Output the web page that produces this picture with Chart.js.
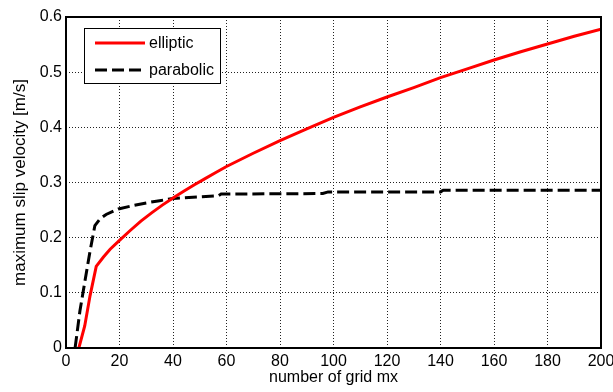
<!DOCTYPE html>
<html>
<head>
<meta charset="utf-8">
<script src="https://cdn.jsdelivr.net/npm/chart.js@4.4.1/dist/chart.umd.min.js"></script>
<style>
  html, body { margin: 0; padding: 0; background: #fff; }
  #wrap { width: 613px; height: 392px; }
</style>
</head>
<body>
<div id="wrap"><canvas id="chart"></canvas></div>
<script>
const ellipticX = [4.8, 7, 9, 11.3, 14, 16.5, 20, 24, 28, 32, 36, 40, 44, 48, 52, 56, 60, 70, 80, 90, 100, 110, 120, 130, 140, 150, 160, 170, 180, 190, 200];
const ellipticY = [0, 0.04, 0.095, 0.148, 0.165, 0.179, 0.195, 0.213, 0.23, 0.245, 0.259, 0.272, 0.284, 0.296, 0.307, 0.318, 0.329, 0.353, 0.376, 0.397, 0.418, 0.437, 0.455, 0.472, 0.49, 0.506, 0.522, 0.537, 0.551, 0.565, 0.578];

const parabolicX = [3.4, 5.2, 7.1, 9, 10.8, 12.7, 15, 19.6, 25, 30, 35, 40, 50, 57, 58, 96, 98, 140, 141, 200];
const parabolicY = [0, 0.067, 0.122, 0.176, 0.222, 0.234, 0.242, 0.252, 0.258, 0.263, 0.267, 0.271, 0.274, 0.276, 0.279, 0.280, 0.283, 0.283, 0.286, 0.286];

const xTicks = [0, 20, 40, 60, 80, 100, 120, 140, 160, 180, 200];
const yTicks = [0, 0.1, 0.2, 0.3, 0.4, 0.5, 0.6];
const yTickLabels = ['0', '0.1', '0.2', '0.3', '0.4', '0.5', '0.6'];

const seriesNames = ['elliptic', 'parabolic'];

const FONT = 'Arial, "Liberation Sans", sans-serif';
const toPoints = (xs, ys) => xs.map((x, i) => ({ x, y: ys[i] }));

// box around the axes plus the boxed legend in the upper left corner
const framePlugin = {
  id: 'frame',
  afterDatasetsDraw(chart) {
    const { ctx, chartArea: a } = chart;
    ctx.save();
    ctx.strokeStyle = '#000';
    ctx.lineWidth = 2;
    ctx.setLineDash([]);
    ctx.strokeRect(a.left, a.top, a.right - a.left, a.bottom - a.top);

    const bx = 84.5, by = 28.5, bw = 136, bh = 55;
    ctx.fillStyle = '#fff';
    ctx.fillRect(bx, by, bw, bh);
    ctx.lineWidth = 1;
    ctx.strokeRect(bx, by, bw, bh);

    const rows = [43, 70];
    chart.data.datasets.forEach((ds, i) => {
      ctx.beginPath();
      ctx.strokeStyle = ds.borderColor;
      ctx.lineWidth = ds.borderWidth;
      ctx.setLineDash(ds.borderDash || []);
      ctx.moveTo(95, rows[i]);
      ctx.lineTo(145, rows[i]);
      ctx.stroke();
      ctx.setLineDash([]);
      ctx.fillStyle = '#000';
      ctx.font = '16px ' + FONT;
      ctx.textBaseline = 'middle';
      ctx.fillText(ds.label, 149, rows[i] + 1);
    });
    ctx.restore();
  }
};

new Chart(document.getElementById('chart'), {
  type: 'scatter',
  data: {
    datasets: [
      {
        label: seriesNames[0],
        data: toPoints(ellipticX, ellipticY),
        showLine: true,
        borderColor: '#ff0000',
        borderWidth: 3,
        pointRadius: 0,
        tension: 0
      },
      {
        label: seriesNames[1],
        data: toPoints(parabolicX, parabolicY),
        showLine: true,
        borderColor: '#000000',
        borderWidth: 3,
        borderDash: [12, 5],
        pointRadius: 0,
        tension: 0
      }
    ]
  },
  options: {
    responsive: true,
    maintainAspectRatio: false,
    animation: false,
    layout: { padding: { left: 0, top: 17, right: 0, bottom: 0 } },
    plugins: {
      legend: { display: false },
      tooltip: { enabled: false }
    },
    scales: {
      x: {
        type: 'linear',
        min: 0,
        max: 200,
        afterBuildTicks: (scale) => { scale.ticks = xTicks.map(v => ({ value: v })); },
        afterFit: (scale) => {
          scale.height = 44;
          scale.paddingLeft = 0;
          scale.paddingRight = 12;
        },
        ticks: {
          color: '#000',
          font: { family: FONT, size: 16 },
          padding: 4,
          maxRotation: 0,
          autoSkip: false
        },
        grid: { color: '#222', lineWidth: 1, drawTicks: false },
        border: { display: false, dash: [1, 2] },
        title: {
          display: true,
          text: 'number of grid mx',
          color: '#000',
          font: { family: FONT, size: 16 },
          padding: { top: 0, bottom: 5 }
        }
      },
      y: {
        type: 'linear',
        min: 0,
        max: 0.6,
        afterBuildTicks: (scale) => { scale.ticks = yTicks.map(v => ({ value: v })); },
        afterFit: (scale) => { scale.width = 66; },
        ticks: {
          color: '#000',
          font: { family: FONT, size: 16 },
          padding: 4,
          callback: (value) => yTickLabels[yTicks.indexOf(Math.round(value * 10) / 10)]
        },
        grid: { color: '#222', lineWidth: 1, drawTicks: false },
        border: { display: false, dash: [1, 2] },
        title: {
          display: true,
          text: 'maximum slip velocity [m/s]',
          color: '#000',
          font: { family: FONT, size: 17 },
          padding: { top: 10, bottom: 0 }
        }
      }
    }
  },
  plugins: [framePlugin]
});
</script>
</body>
</html>
